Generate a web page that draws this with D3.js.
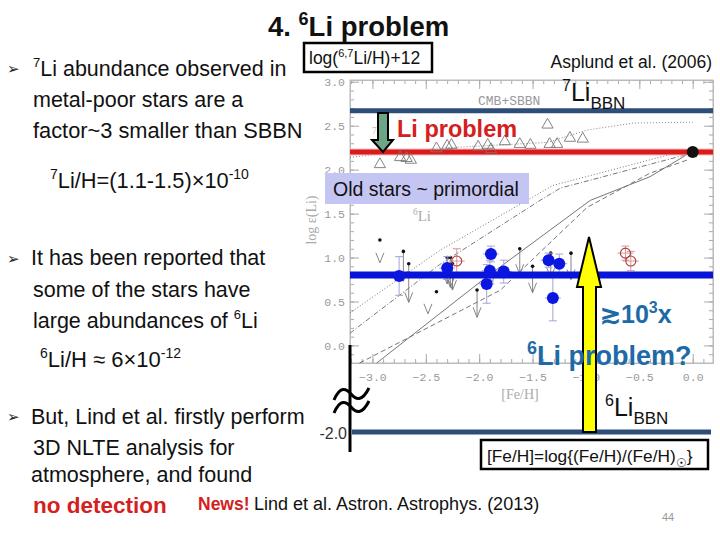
<!DOCTYPE html>
<html>
<head>
<meta charset="utf-8">
<script src="https://cdn.jsdelivr.net/npm/d3@7"></script>
<style>
  body { margin: 0; background: #fff; }
  svg { font-family: "Liberation Sans", Arial, sans-serif; }
  .tick text { fill: #999; font-family: "Liberation Mono", "DejaVu Sans Mono", monospace; font-size: 11.5px; }
  .tick line { stroke: #aaa; }
</style>
</head>
<body>
<div class="canvas"></div>
<script>
// ---- data ----
var xTicks = [-3.0, -2.5, -2.0, -1.5, -1.0, -0.5, 0.0];
var yTicks = [0.0, 0.5, 1.0, 1.5, 2.0, 2.5, 3.0];

// horizontal levels: log eps(Li)
var li7BBN = 2.67;
var li7Obs = 2.2;
var li6Obs = 0.8;
var li6BBN = -2.0;

// 7Li stars (open triangles): [Fe/H], log eps
var tri = [
  [-2.93, 2.06], [-2.74, 2.14], [-2.68, 2.13], [-2.64, 2.11], [-2.40, 2.24],
  [-2.30, 2.27], [-2.26, 2.28], [-2.01, 2.26], [-1.92, 2.28], [-1.89, 2.23],
  [-1.76, 2.32], [-1.62, 2.29], [-1.52, 2.28], [-1.36, 2.51], [-1.34, 2.29],
  [-1.27, 2.29], [-1.15, 2.36], [-1.03, 2.35]
];

// 6Li detections: [Fe/H], log eps, error
var blueDots = [
  [-2.75, 0.79, 0.22], [-2.30, 0.88, 0.13], [-1.89, 1.04, 0.09],
  [-1.90, 0.85, 0.12], [-1.93, 0.70, 0.22], [-1.77, 0.84, 0.13],
  [-1.35, 0.97, 0.08], [-1.25, 0.93, 0.11], [-1.31, 0.54, 0.26]
];
var redRings = [[-2.21, 0.96, 0.14], [-0.63, 1.05, 0.08], [-0.58, 0.96, 0.11]];

// 6Li upper limits: [Fe/H], top, bottom
var limits = [
  [-2.71, 1.07, 0.73], [-2.66, 0.93, 0.49], [-2.30, 1.00, 0.70], [-2.27, 1.00, 0.66],
  [-2.25, 0.93, 0.63], [-2.02, 0.63, 0.32], [-1.62, 1.10, 0.81], [-1.50, 0.90, 0.60],
  [-1.33, 1.05, 0.77], [-1.14, 1.05, 0.75]
];
var smallDots = [[-2.93, 1.20], [-2.40, 0.61]];
var vees = [[-2.93, 0.94], [-2.48, 0.36], [-1.88, 0.72]];

// model curves
var li7Model = [[-3.21, 2.14], [-2.43, 2.24], [-1.36, 2.31], [-0.99, 2.45], [-0.56, 2.53], [0.0, 2.54]];
var li6Models = [
  {dash: "1,2", pts: [[-3.21, 0.37], [-2.37, 1.08], [-1.31, 1.82], [0.0, 2.24]]},
  {dash: "5,2,1,2", pts: [[-3.21, 0.14], [-2.37, 0.92], [-1.43, 1.65], [-1.24, 1.79], [0.0, 2.19]]},
  {dash: null, pts: [[-2.96, -0.2], [-1.93, 0.78], [-0.96, 1.65], [-0.40, 1.92], [0.0, 2.21]]},
  {dash: "5,3", pts: [[-3.12, -0.2], [-1.80, 0.63], [-0.99, 1.57], [-0.40, 1.96], [-0.05, 2.11]]}
];

var svg = d3.select(".canvas")
            .append("svg")
            .attr("width", 720)
            .attr("height", 540);

var x = d3.scaleLinear().domain([-3.21, 0.19]).range([350, 713]);
var y = d3.scaleLinear().domain([-0.2, 3.02]).range([363, 80]);
// below the axis break
var yLow = d3.scaleLinear().domain([-2.0, -1.0]).range([432, 400]);

// text with super / subscripts
function rich(px, py, parts, size, weight, color) {
  var t = svg.append("text")
             .attr("x", px)
             .attr("y", py)
             .style("font-size", size + "px")
             .style("font-weight", weight || "normal")
             .style("fill", color || "#111");
  var shift = 0;
  parts.forEach(function(p){
    var s = p[1] === "sup" ? -0.4 * size : (p[1] === "sub" ? 0.3 * size : 0);
    var fs = p[1] ? (p[2] || 0.62 * size) : size;
    t.append("tspan")
     .attr("dy", s - shift)
     .style("font-size", fs + "px")
     .text(p[0]);
    shift = s;
  });
  return t;
}

// ---- plot frame and axes ----
svg.append("rect")
   .attr("x", 350).attr("y", 80)
   .attr("width", 363).attr("height", 283)
   .attr("fill", "none")
   .attr("stroke", "#bbb");

var yMinor = d3.range(-2, 31).map(function(d){ return d / 10; });
var xMinor = d3.range(-32, 2).map(function(d){ return d / 10; });

svg.append("g").attr("transform", "translate(350,0)")
   .call(d3.axisLeft(y).tickValues(yMinor).tickSize(-4).tickFormat(""));
svg.append("g").attr("transform", "translate(350,0)")
   .call(d3.axisLeft(y).tickValues(yTicks).tickSize(-9).tickPadding(5).tickFormat(d3.format(".1f")));
svg.append("g").attr("transform", "translate(713,0)")
   .call(d3.axisRight(y).tickValues(yMinor).tickSize(-4).tickFormat(""));
svg.append("g").attr("transform", "translate(713,0)")
   .call(d3.axisRight(y).tickValues(yTicks).tickSize(-9).tickFormat(""));
svg.append("g").attr("transform", "translate(0,363)")
   .call(d3.axisBottom(x).tickValues(xMinor).tickSize(-4).tickFormat(""));
svg.append("g").attr("transform", "translate(0,363)")
   .call(d3.axisBottom(x).tickValues(xTicks).tickSize(-9).tickPadding(10).tickFormat(d3.format(".1f")));
svg.append("g").attr("transform", "translate(0,80)")
   .call(d3.axisTop(x).tickValues(xMinor).tickSize(-4).tickFormat(""));
svg.append("g").attr("transform", "translate(0,80)")
   .call(d3.axisTop(x).tickValues(xTicks).tickSize(-9).tickFormat(""));
svg.selectAll(".domain").attr("stroke", "#bbb");

svg.append("text")
   .attr("x", 520).attr("y", 399)
   .attr("text-anchor", "middle")
   .style("font-family", "'Liberation Serif', serif")
   .style("font-size", "14px")
   .style("fill", "#aaa")
   .text("[Fe/H]");

svg.append("text")
   .attr("transform", "translate(316,220) rotate(-90)")
   .attr("text-anchor", "middle")
   .style("font-family", "'Liberation Serif', serif")
   .style("font-size", "14px")
   .style("fill", "#aaa")
   .text("log \u03b5(Li)");

svg.append("text")
   .attr("x", 478).attr("y", 105)
   .style("font-family", "'Liberation Mono', monospace")
   .style("font-size", "13px")
   .style("fill", "#999")
   .text("CMB+SBBN");

var l6 = rich(413, 221, [["6", "sup"], ["Li"]], 15, "normal", "#aaa");
l6.style("font-family", "'Liberation Serif', serif");
var l7 = rich(372, 140, [["7", "sup"], ["Li"]], 15, "normal", "#bbb");
l7.style("font-family", "'Liberation Serif', serif");

// ---- model curves ----
var line = d3.line().x(function(d){ return x(d[0]); }).y(function(d){ return y(d[1]); });

svg.append("path")
   .attr("d", line(li7Model))
   .attr("fill", "none")
   .attr("stroke", "#777")
   .attr("stroke-width", 0.9)
   .attr("stroke-dasharray", "1,2");

svg.selectAll(".model")
   .data(li6Models)
   .enter()
   .append("path")
   .attr("class", "model")
   .attr("d", function(d){ return line(d.pts); })
   .attr("fill", "none")
   .attr("stroke", "#666")
   .attr("stroke-width", 0.9)
   .attr("stroke-dasharray", function(d){ return d.dash; });

// ---- horizontal levels ----
svg.append("line")
   .attr("x1", 350).attr("x2", 713)
   .attr("y1", y(li7BBN)).attr("y2", y(li7BBN))
   .attr("stroke", "#2d4e78")
   .attr("stroke-width", 5);

svg.append("line")
   .attr("x1", 350).attr("x2", 713)
   .attr("y1", y(li7Obs)).attr("y2", y(li7Obs))
   .attr("stroke", "#f6c4c4")
   .attr("stroke-width", 7);
svg.append("line")
   .attr("x1", 350).attr("x2", 713)
   .attr("y1", y(li7Obs)).attr("y2", y(li7Obs))
   .attr("stroke", "#dd1a1a")
   .attr("stroke-width", 5);

// ---- triangles ----
svg.selectAll(".tri")
   .data(tri)
   .enter()
   .append("path")
   .attr("class", "tri")
   .attr("d", d3.symbol().type(d3.symbolTriangle).size(55))
   .attr("transform", function(d){ return "translate(" + x(d[0]) + "," + y(d[1]) + ")"; })
   .attr("fill", "none")
   .attr("stroke", "#777")
   .attr("stroke-width", 0.9);

svg.append("circle")
   .attr("cx", x(0)).attr("cy", y(li7Obs))
   .attr("r", 6)
   .attr("fill", "#111");

// ---- upper limits ----
svg.selectAll(".lim")
   .data(limits)
   .enter()
   .append("line")
   .attr("class", "lim")
   .attr("x1", function(d){ return x(d[0]); })
   .attr("x2", function(d){ return x(d[0]); })
   .attr("y1", function(d){ return y(d[1]); })
   .attr("y2", function(d){ return y(d[2]); })
   .attr("stroke", "#777")
   .attr("stroke-width", 0.9);

svg.selectAll(".limdot")
   .data(limits.concat(smallDots))
   .enter()
   .append("circle")
   .attr("class", "limdot")
   .attr("cx", function(d){ return x(d[0]); })
   .attr("cy", function(d){ return y(d[1]); })
   .attr("r", 1.8)
   .attr("fill", "#111");

var vHead = function(px, py){
  return "M" + (px - 4) + "," + (py - 10) + "L" + px + "," + py + "L" + (px + 4) + "," + (py - 10);
};
svg.selectAll(".vee")
   .data(limits.map(function(d){ return [d[0], d[2]]; }).concat(vees))
   .enter()
   .append("path")
   .attr("class", "vee")
   .attr("d", function(d){ return vHead(x(d[0]), y(d[1])); })
   .attr("fill", "none")
   .attr("stroke", "#777")
   .attr("stroke-width", 0.9);

// ---- 6Li detections ----
svg.selectAll(".err")
   .data(blueDots.concat(redRings))
   .enter()
   .append("path")
   .attr("class", "err")
   .attr("d", function(d){
     var px = x(d[0]), t = y(d[1] + d[2]), b = y(d[1] - d[2]);
     return "M" + px + "," + t + "V" + b + "M" + (px - 4) + "," + t + "H" + (px + 4) +
            "M" + (px - 4) + "," + b + "H" + (px + 4) + "M" + (px - 8) + "," + y(d[1]) + "H" + (px + 8);
   })
   .attr("fill", "none")
   .attr("stroke", function(d, i){ return i < blueDots.length ? "#a4a4d8" : "#d49a9a"; })
   .attr("stroke-width", 1);

svg.selectAll(".ring")
   .data(redRings)
   .enter()
   .append("circle")
   .attr("class", "ring")
   .attr("cx", function(d){ return x(d[0]); })
   .attr("cy", function(d){ return y(d[1]); })
   .attr("r", 5)
   .attr("fill", "none")
   .attr("stroke", "#b03a3a")
   .attr("stroke-width", 1.1);

svg.append("line")
   .attr("x1", 350).attr("x2", 713)
   .attr("y1", y(li6Obs)).attr("y2", y(li6Obs))
   .attr("stroke", "#0a14d8")
   .attr("stroke-width", 7);

svg.selectAll(".blue")
   .data(blueDots)
   .enter()
   .append("circle")
   .attr("class", "blue")
   .attr("cx", function(d){ return x(d[0]); })
   .attr("cy", function(d){ return y(d[1]); })
   .attr("r", 6)
   .attr("fill", "#0b16e0");

// ---- broken axis and 6Li BBN level ----
svg.append("line")
   .attr("x1", 352).attr("x2", 711)
   .attr("y1", yLow(li6BBN)).attr("y2", yLow(li6BBN))
   .attr("stroke", "#2d4e78")
   .attr("stroke-width", 5);

svg.append("line")
   .attr("x1", 350).attr("x2", 350)
   .attr("y1", 345).attr("y2", 452)
   .attr("stroke", "#000")
   .attr("stroke-width", 3);

[394, 407].forEach(function(cy){
  svg.append("path")
     .attr("d", "M334," + (cy + 6) + "C340," + (cy - 8) + " 346," + (cy - 6) + " 351," + cy +
                "C356," + (cy + 6) + " 362," + (cy + 8) + " 369," + (cy - 6))
     .attr("fill", "none")
     .attr("stroke", "#000")
     .attr("stroke-width", 3);
});

svg.append("text")
   .attr("x", 347).attr("y", 439)
   .attr("text-anchor", "end")
   .style("font-size", "16px")
   .style("fill", "#333")
   .text("-2.0");

// ---- overlays ----
svg.append("path")
   .attr("d", "M378,113H388V140H393L383,152L372,140H378Z")
   .attr("fill", "#6ca687")
   .attr("stroke", "#000")
   .attr("stroke-width", 2);

svg.append("text")
   .attr("x", 397).attr("y", 137)
   .style("font-size", "23.5px")
   .style("font-weight", "bold")
   .style("fill", "#d42020")
   .text("Li problem");

svg.append("rect")
   .attr("x", 325).attr("y", 173)
   .attr("width", 204).attr("height", 31)
   .attr("fill", "#c5c5f3");
svg.append("text")
   .attr("x", 333).attr("y", 196)
   .style("font-size", "19.5px")
   .style("fill", "#111")
   .text("Old stars ~ primordial");

svg.append("path")
   .attr("d", "M589,237L601,287H596V432H583V287H577Z")
   .attr("fill", "#ffff00")
   .attr("stroke", "#000")
   .attr("stroke-width", 2);

rich(600, 323, [["\u227310"], ["3", "sup", 16], ["x"]], 25, "bold", "#1e6aa6");
rich(527, 365, [["6", "sup", 18], ["Li problem?"]], 27, "bold", "#1e6aa6");

rich(562, 101, [["7", "sup", 16], ["Li"], ["BBN", "sub", 17]], 25, "normal", "#111");
rich(605, 416, [["6", "sup", 16], ["Li"], ["BBN", "sub", 17]], 25, "normal", "#111");

svg.append("text")
   .attr("x", 712).attr("y", 68)
   .attr("text-anchor", "end")
   .style("font-size", "17.5px")
   .style("fill", "#111")
   .text("Asplund et al. (2006)");

svg.append("rect")
   .attr("x", 304).attr("y", 43)
   .attr("width", 128).attr("height", 29)
   .attr("fill", "#fff")
   .attr("stroke", "#000")
   .attr("stroke-width", 2.5);
rich(309, 64, [["log("], ["6,7", "sup", 11], ["Li/H)+12"]], 17.5, "normal", "#111");

svg.append("rect")
   .attr("x", 481).attr("y", 440)
   .attr("width", 227).attr("height", 29)
   .attr("fill", "#fff")
   .attr("stroke", "#000")
   .attr("stroke-width", 2.5);
rich(487, 462, [["[Fe/H]=log{(Fe/H)/(Fe/H)"], ["\u2609", "sub", 12], ["}"]], 17.3, "normal", "#111");

// ---- slide text ----
rich(268, 36, [["4. "], ["6", "sup", 18], ["Li problem"]], 27.5, "bold", "#111");

var bullet = function(py){
  svg.append("text")
     .attr("x", 7).attr("y", py)
     .style("font-family", "'DejaVu Sans', sans-serif")
     .style("font-size", "15px")
     .style("fill", "#222")
     .text("\u27a2");
};
bullet(74);
bullet(264);
bullet(422);

rich(33, 76, [["7", "sup", 13], ["Li abundance observed in"]], 21.5);
rich(33, 107, [["metal-poor stars are a"]], 21.5);
rich(33, 138, [["factor~3 smaller than SBBN"]], 21.8);
rich(50, 188, [["7", "sup", 14], ["Li/H=(1.1-1.5)\u00d710"], ["-10", "sup", 14]], 21.8);

rich(31, 265, [["It has been reported that"]], 21.5);
rich(33, 297, [["some of the stars have"]], 21.5);
rich(33, 328, [["large abundances of "], ["6", "sup", 13], ["Li"]], 21.5);
rich(40, 367, [["6", "sup", 14], ["Li/H \u2248 6\u00d710"], ["-12", "sup", 14]], 22);

rich(31, 424, [["But, Lind et al. firstly perform"]], 21.5);
rich(33, 455, [["3D NLTE analysis for"]], 21.5);
rich(31, 482, [["atmosphere, and found"]], 21.5);

svg.append("text")
   .attr("x", 33).attr("y", 513)
   .style("font-size", "22.5px")
   .style("font-weight", "bold")
   .style("fill", "#d42020")
   .text("no detection");

svg.append("text")
   .attr("x", 198).attr("y", 510)
   .style("font-size", "17.5px")
   .style("font-weight", "bold")
   .style("fill", "#d42020")
   .text("News!");
svg.append("text")
   .attr("x", 254).attr("y", 510)
   .style("font-size", "18px")
   .style("fill", "#111")
   .text("Lind et al. Astron. Astrophys. (2013)");

svg.append("text")
   .attr("x", 662).attr("y", 521)
   .style("font-size", "11px")
   .style("fill", "#999")
   .text("44");
</script>
</body>
</html>
